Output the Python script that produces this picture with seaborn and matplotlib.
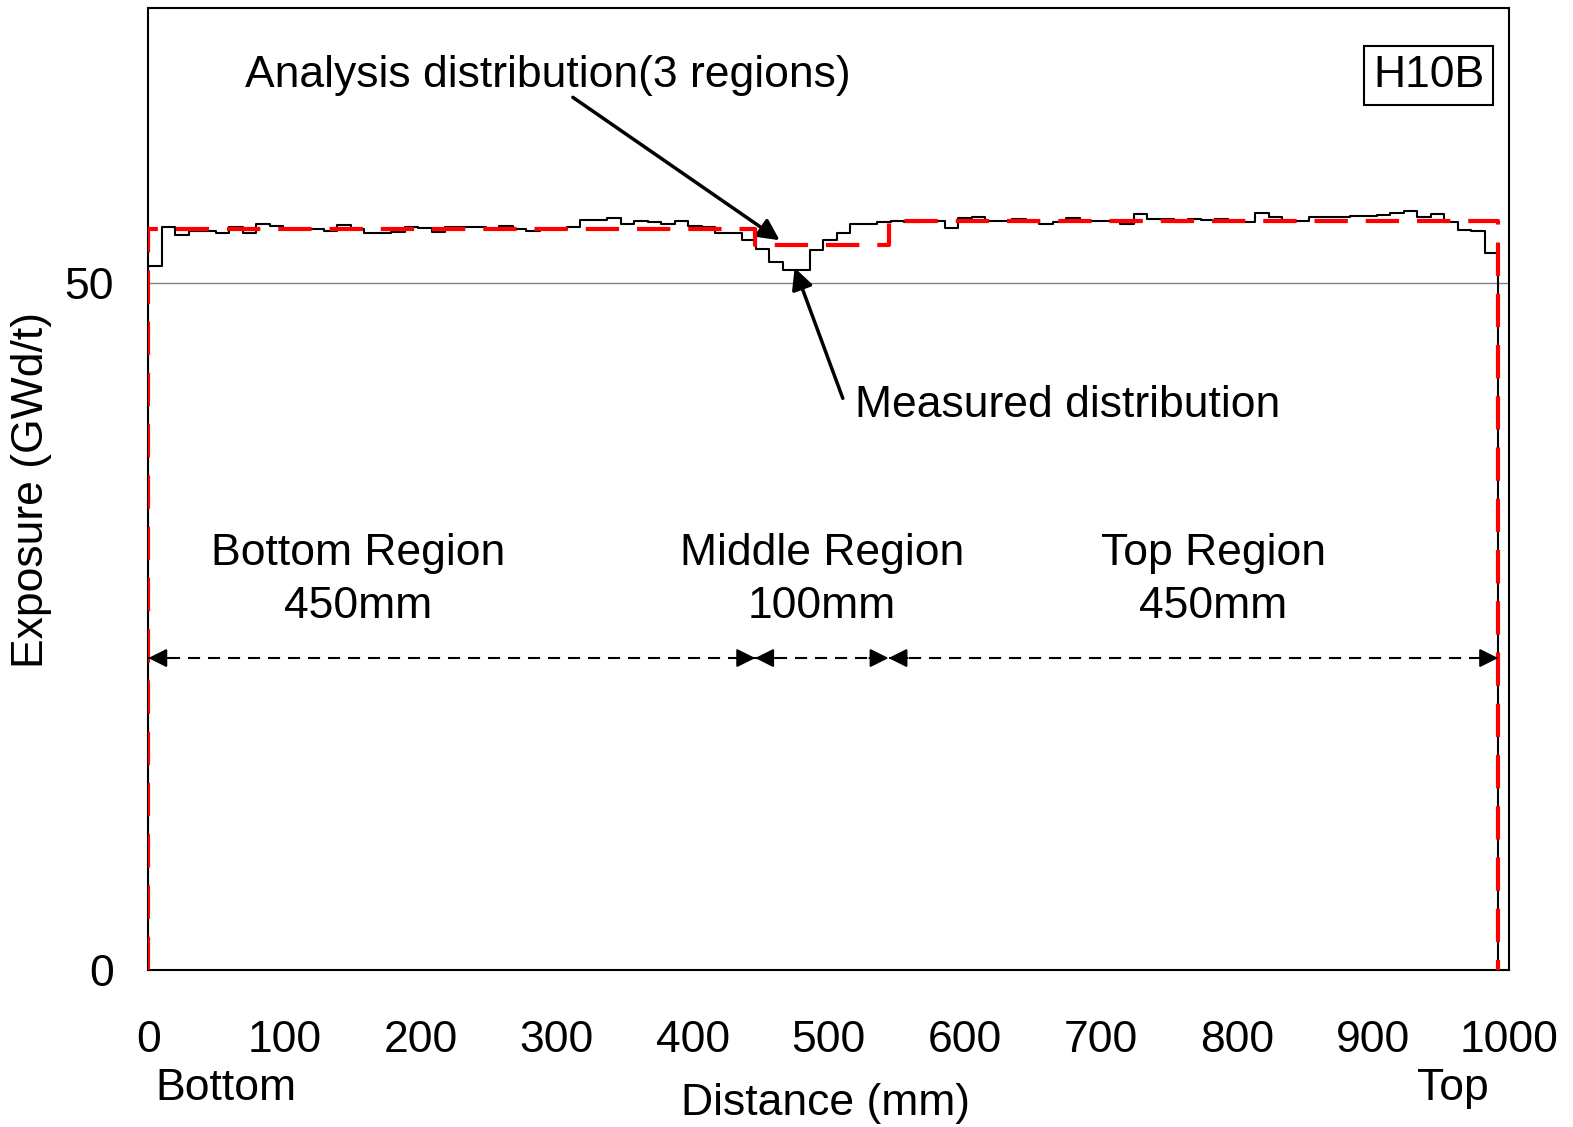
import numpy as np
import pandas as pd
import seaborn as sns
from matplotlib import pyplot as plt

# measured exposure, 100 axial bins (GWd/t)
measured = [51.2, 54.1, 53.5, 53.75, 53.8, 53.6, 54.1, 53.65, 54.25, 54.15,
            53.9, 53.9, 53.95, 53.8, 54.2, 53.9, 53.65, 53.65, 53.7, 54.1,
            54.0, 53.7, 54.1, 54.1, 54.1, 53.9, 54.15, 53.9, 53.8, 53.9,
            53.95, 54.1, 54.55, 54.6, 54.7, 54.3, 54.5, 54.4, 54.3, 54.5,
            54.15, 54.1, 53.6, 53.6, 53.1, 52.5, 51.55, 50.95, 50.95, 52.4,
            53.1, 53.6, 54.3, 54.3, 54.45, 54.5, 54.45, 54.5, 54.5, 53.97,
            54.73, 54.8, 54.5, 54.5, 54.68, 54.4, 54.3, 54.44, 54.73, 54.5,
            54.5, 54.5, 54.3, 55.0, 54.68, 54.68, 54.44, 54.68, 54.58, 54.63,
            54.53, 54.45, 55.1, 54.82, 54.48, 54.5, 54.82, 54.78, 54.78, 54.87,
            54.87, 54.97, 55.07, 55.2, 54.82, 55.0, 54.44, 53.86, 53.76, 52.2]
rod_length = 992.0
bin_edges = np.linspace(0, rod_length, len(measured) + 1)

# analysis distribution, 3 regions
region_edges = [0.0, 446.0, 544.0, 992.0]
region_values = [53.9, 52.77, 54.5]
region_names = ['Bottom Region\n450mm', 'Middle Region\n100mm', 'Top Region\n450mm']
region_label_x = [154, 495, 782.6]

meas = pd.DataFrame({'x': [0.0] + list(bin_edges),
                     'y': [0.0] + measured + [0.0]})
ax_x = [0.0]
ax_y = [0.0]
for i, v in enumerate(region_values):
    ax_x.append(region_edges[i])
    ax_y.append(v)
ax_x.append(region_edges[-1])
ax_y.append(0.0)
anal = pd.DataFrame({'x': ax_x, 'y': ax_y})

sns.set_style('white')
plt.rcParams['font.family'] = ['Liberation Sans', 'DejaVu Sans']
plt.rcParams['text.color'] = 'black'
plt.rcParams['xtick.labelcolor'] = 'black'
plt.rcParams['ytick.labelcolor'] = 'black'
fs = 32

fig = plt.figure(figsize=(15.73, 11.27), dpi=100)
ax = fig.add_axes([0.0943, 0.1393, 0.865, 0.8536])

ax.axhline(50, color='#808080', lw=1, zorder=1)
sns.lineplot(data=meas, x='x', y='y', sort=False, estimator=None,
             drawstyle='steps-post', color='black', lw=1.5, ax=ax, zorder=3)
sns.lineplot(data=anal, x='x', y='y', sort=False, estimator=None,
             drawstyle='steps-post', color='#ff0000', lw=3,
             linestyle=(0, (8, 4.3)), ax=ax, zorder=4)

# region spans with dashed double arrows
arrow_y = 22.7
for i in range(3):
    a, b = region_edges[i], region_edges[i + 1]
    ax.plot([a, b], [arrow_y, arrow_y], color='black', lw=1.5,
            linestyle=(0, (5.8, 3.8)), zorder=5)
    for tip, tail in ((a, a + 14), (b, b - 14)):
        ax.annotate('', xy=(tip, arrow_y), xytext=(tail, arrow_y),
                    arrowprops=dict(arrowstyle='-|>', color='black', lw=1.5,
                                    mutation_scale=28, shrinkA=0, shrinkB=0),
                    zorder=6)
    ax.text(region_label_x[i], 28.4, region_names[i], fontsize=fs,
            ha='center', va='center', linespacing=1.38)

ax.text(71, 65.1, 'Analysis distribution(3 regions)', fontsize=fs,
        ha='left', va='center')
ax.annotate('', xy=(464, 53.1), xytext=(312, 63.5),
            arrowprops=dict(arrowstyle='-|>', color='black', lw=2.5,
                            mutation_scale=32, shrinkA=0, shrinkB=0))
ax.text(519, 41.1, 'Measured distribution', fontsize=fs, ha='left', va='center')
ax.annotate('', xy=(475, 51.1), xytext=(510.4, 41.6),
            arrowprops=dict(arrowstyle='-|>', color='black', lw=2.5,
                            mutation_scale=32, shrinkA=0, shrinkB=0))

ax.text(941, 65.1, 'H10B', fontsize=fs, ha='center', va='center',
        bbox=dict(boxstyle='square,pad=0.2', fc='white', ec='black', lw=1.5))

ax.set_xlim(0, 1000)
ax.set_ylim(0, 70)
ax.set_xticks(np.arange(0, 1001, 100))
ax.set_yticks([0, 50])
ax.tick_params(axis='x', direction='in', length=9, width=1, color='#808080',
               labelsize=fs, pad=36)
ax.tick_params(axis='y', length=0, labelsize=fs, pad=25)
ax.set_xlabel('')
ax.set_ylabel('')
for s in ax.spines.values():
    s.set_color('black')
    s.set_linewidth(1.5)

fig.text(0.0203, 0.565, 'Exposure (GWd/t)', fontsize=fs, rotation=90,
         ha='center', va='center')
fig.text(0.525, 0.0205, 'Distance (mm)', fontsize=fs, ha='center', va='center')
fig.text(0.0985, 0.0345, 'Bottom', fontsize=fs, ha='left', va='center')
fig.text(0.9235, 0.0345, 'Top', fontsize=fs, ha='center', va='center')

fig.savefig('out.png', dpi=100)
